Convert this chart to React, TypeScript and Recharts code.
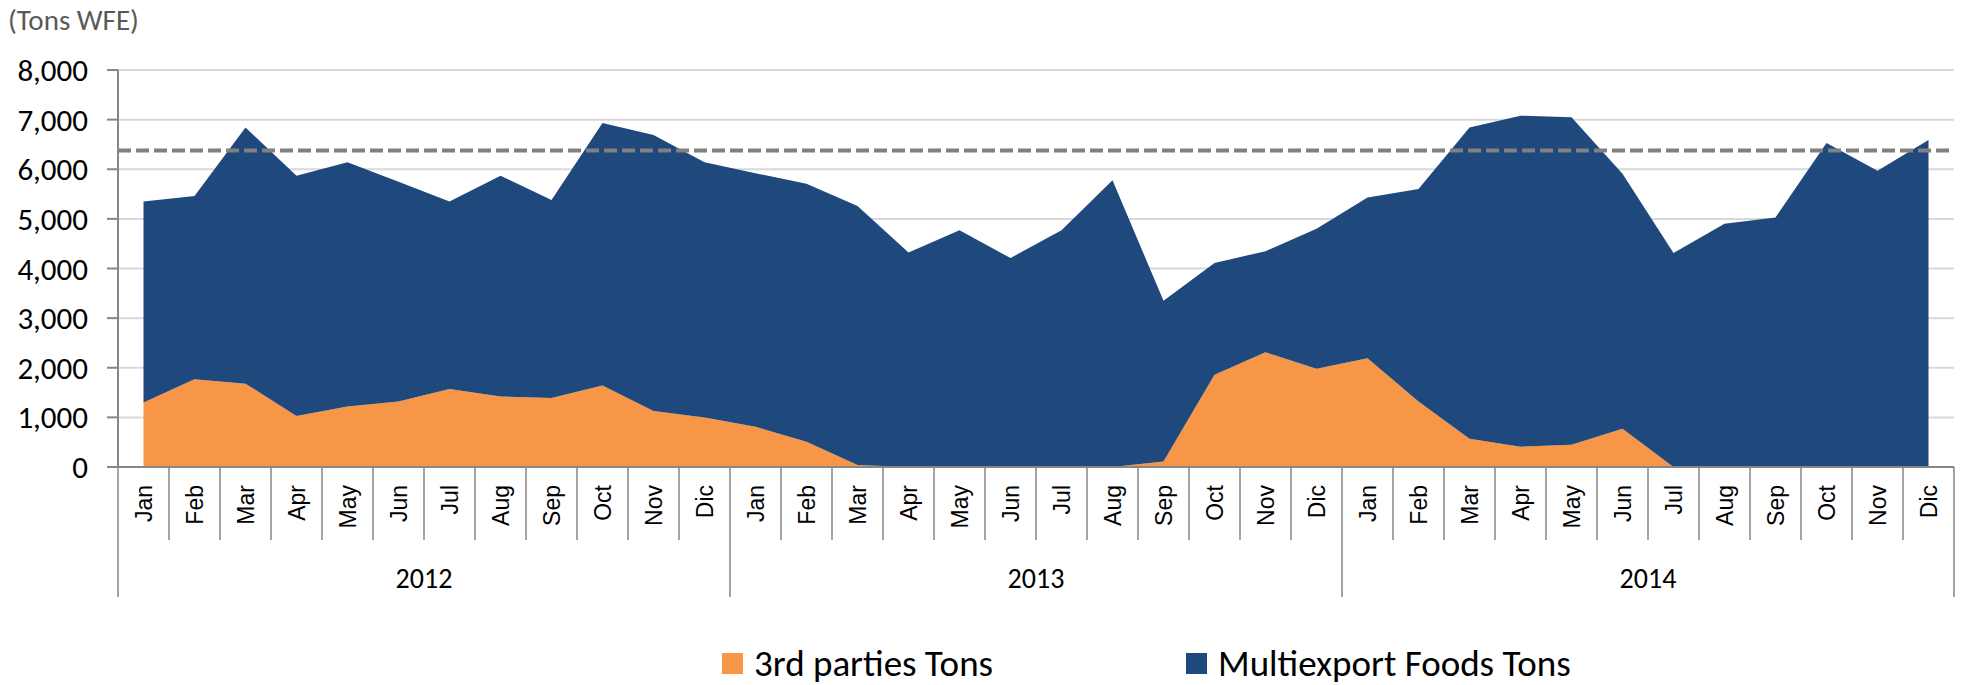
import React from 'react';
import { AreaChart, Area, XAxis, YAxis, CartesianGrid, ReferenceLine, Legend } from 'recharts';

const months = [
  'Jan', 'Feb', 'Mar', 'Apr', 'May', 'Jun', 'Jul', 'Aug', 'Sep', 'Oct', 'Nov', 'Dic',
  'Jan', 'Feb', 'Mar', 'Apr', 'May', 'Jun', 'Jul', 'Aug', 'Sep', 'Oct', 'Nov', 'Dic',
  'Jan', 'Feb', 'Mar', 'Apr', 'May', 'Jun', 'Jul', 'Aug', 'Sep', 'Oct', 'Nov', 'Dic',
];
const years = ['2012', '2013', '2014'];

const thirdPartiesTons = [
  1300, 1770, 1680, 1030, 1220, 1320, 1570, 1420, 1390, 1640, 1130, 1000,
  810, 510, 40, 0, 0, 0, 0, 0, 110, 1860, 2310, 1980,
  2190, 1320, 570, 410, 450, 770, 0, 0, 0, 0, 0, 0,
];
const multiexportTons = [
  4050, 3690, 5160, 4840, 4920, 4430, 3780, 4450, 3990, 5290, 5560, 5140,
  5110, 5200, 5220, 4320, 4770, 4210, 4770, 5780, 3240, 2250, 2040, 2820,
  3240, 4280, 6270, 6670, 6600, 5140, 4310, 4900, 5030, 6530, 5970, 6590,
];
const yTicks = [0, 1000, 2000, 3000, 4000, 5000, 6000, 7000, 8000];
const targetValue = 6380;

const seriesNames = { third: '3rd parties Tons', multi: 'Multiexport Foods Tons' };
const colors: Record<string, string> = { third: '#F79646', multi: '#1F497D' };

const data = months.map((m, i) => ({
  key: `${years[Math.floor(i / 12)]}-${i}`,
  month: m,
  year: years[Math.floor(i / 12)],
  third: thirdPartiesTons[i],
  multi: multiexportTons[i],
}));

const W = 1965;
const H = 685;
const M = { top: 70, right: 11, bottom: 0, left: 0 };
const Y_AXIS_W = 118;
const LEGEND_H = 44;
const X_AXIS_H = H - M.top - M.bottom - LEGEND_H - 397;
const STEP = (W - M.left - M.right - Y_AXIS_W) / months.length;
const HALF = STEP / 2;
const AXIS_GRAY = '#868686';
const CALIBRI = 'Carlito, Lato, sans-serif';

const fmt = (v: number) => v.toLocaleString('en-US');

const MonthTick = (props: any) => {
  const { x, y, payload } = props;
  const i: number = payload.index;
  const n = months.length;
  const labelTop = y + 18;
  return (
    <g>
      <text
        x={x}
        y={labelTop}
        dy="0.36em"
        textAnchor="end"
        transform={`rotate(-90, ${x}, ${labelTop})`}
        fontFamily="'Liberation Sans', Arial, sans-serif"
        fontSize={23}
        fill="#000"
      >
        {months[i]}
      </text>
      <line
        x1={x - HALF}
        x2={x - HALF}
        y1={y}
        y2={i % 12 === 0 ? y + 130 : y + 73}
        stroke={AXIS_GRAY}
        strokeWidth={1.5}
      />
      {i === n - 1 && (
        <line x1={x + HALF} x2={x + HALF} y1={y} y2={y + 130} stroke={AXIS_GRAY} strokeWidth={1.5} />
      )}
      {i % 12 === 5 && (
        <text
          x={x + HALF}
          y={y + 111}
          dy="0.35em"
          textAnchor="middle"
          fontFamily={CALIBRI}
          fontSize={28}
          fill="#000"
        >
          {data[i].year}
        </text>
      )}
    </g>
  );
};

const legendLefts: Record<string, number> = { third: 722, multi: 1186 };

const LegendContent = (props: any) => {
  const { payload } = props;
  return (
    <div style={{ position: 'relative', height: LEGEND_H, width: W }}>
      {(payload || []).map((p: any) => (
        <div
          key={p.dataKey}
          style={{
            position: 'absolute',
            left: legendLefts[p.dataKey],
            top: 0,
            height: LEGEND_H,
            display: 'flex',
            alignItems: 'center',
            fontFamily: CALIBRI,
            fontSize: 37,
            color: '#000',
            whiteSpace: 'nowrap',
          }}
        >
          <span style={{ display: 'inline-block', width: 21, height: 21, background: colors[p.dataKey], marginRight: 11 }} />
          <span>{p.value}</span>
        </div>
      ))}
    </div>
  );
};

export default function App() {
  return (
    <div style={{ position: 'absolute', left: 0, top: 0, width: W, height: H, background: '#fff' }}>
      <div
        style={{
          position: 'absolute',
          left: 8,
          top: 3,
          fontFamily: CALIBRI,
          fontSize: 29,
          lineHeight: '34px',
          color: '#595959',
          whiteSpace: 'nowrap',
        }}
      >
        (Tons WFE)
      </div>
      <AreaChart width={W} height={H} data={data} margin={M}>
        <CartesianGrid vertical={false} stroke="#D9D9D9" strokeWidth={2} />
        <XAxis
          dataKey="key"
          interval={0}
          height={X_AXIS_H}
          padding={{ left: HALF, right: HALF }}
          tickLine={false}
          tickSize={0}
          tickMargin={0}
          axisLine={{ stroke: AXIS_GRAY, strokeWidth: 2 }}
          tick={<MonthTick />}
        />
        <YAxis
          width={Y_AXIS_W}
          domain={[0, 8000]}
          ticks={yTicks}
          interval={0}
          tickFormatter={fmt}
          tickSize={11}
          tickMargin={19}
          tickLine={{ stroke: AXIS_GRAY, strokeWidth: 2 }}
          axisLine={{ stroke: AXIS_GRAY, strokeWidth: 2 }}
          tick={{ fontFamily: CALIBRI, fontSize: 31, fill: '#000' }}
        />
        <Area
          type="linear"
          dataKey="third"
          name={seriesNames.third}
          stackId="a"
          fill={colors.third}
          fillOpacity={1}
          stroke="none"
          dot={false}
          activeDot={false}
          isAnimationActive={false}
        />
        <Area
          type="linear"
          dataKey="multi"
          name={seriesNames.multi}
          stackId="a"
          fill={colors.multi}
          fillOpacity={1}
          stroke="none"
          dot={false}
          activeDot={false}
          isAnimationActive={false}
        />
        <ReferenceLine y={targetValue} stroke="#808080" strokeWidth={4} strokeDasharray="13 5" />
        <Legend verticalAlign="bottom" content={<LegendContent />} wrapperStyle={{ left: 0, width: W, bottom: M.bottom }} />
      </AreaChart>
    </div>
  );
}
